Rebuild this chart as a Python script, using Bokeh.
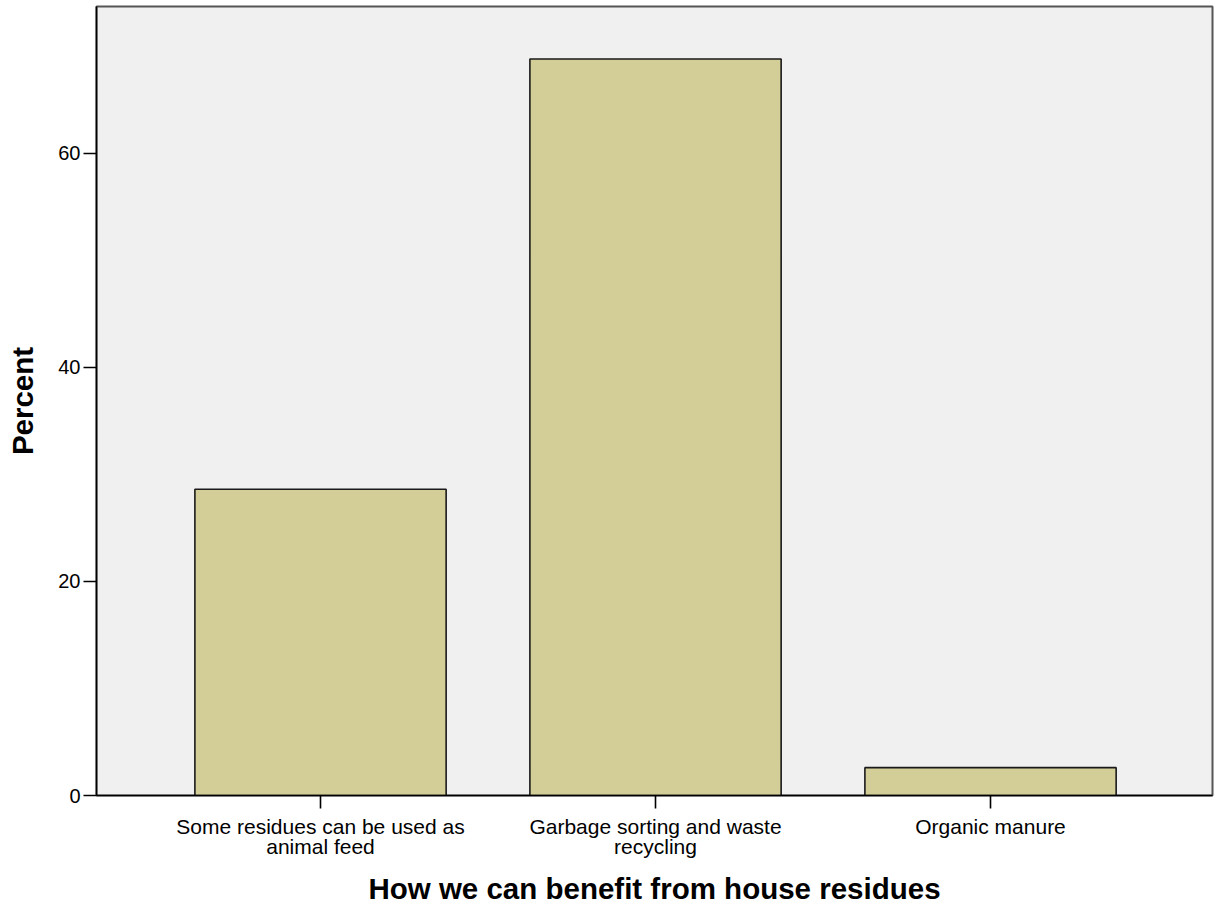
from bokeh.plotting import figure
from bokeh.models import Range1d, FixedTicker, ColumnDataSource
from bokeh.embed import file_html
from bokeh.resources import INLINE

categories = ["Some residues can be used as\nanimal feed",
              "Garbage sorting and waste\nrecycling",
              "Organic manure"]
percent = [28.6, 68.8, 2.6]
positions = [1, 2, 3]
y_ticks = [0, 20, 40, 60]

src = ColumnDataSource(dict(x=positions, top=percent))

p = figure(width=1217, height=911, output_backend="svg", toolbar_location=None,
           x_range=Range1d(0.3313, 3.6626), y_range=Range1d(0, 73.7),
           min_border_left=96, min_border_right=5, min_border_top=6, min_border_bottom=116)

p.border_fill_color = "white"
p.background_fill_color = "#F0F0F0"
p.outline_line_color = "#555555"
p.outline_line_width = 2
p.xgrid.visible = False
p.ygrid.visible = False

p.vbar(x="x", top="top", bottom=0, width=0.75, source=src,
       fill_color="#D3CE97", line_color="#1a1a1a", line_width=1.6)

font = "Liberation Sans"

p.xaxis.ticker = FixedTicker(ticks=positions)
p.xaxis.major_label_overrides = {pos: lab for pos, lab in zip(positions, categories)}
p.yaxis.ticker = FixedTicker(ticks=y_ticks)

for ax in (p.xaxis, p.yaxis):
    ax.axis_line_color = "black"
    ax.axis_line_width = 1.6
    ax.major_tick_line_color = "black"
    ax.major_tick_line_width = 1.6
    ax.major_tick_out = 13
    ax.major_tick_in = 0
    ax.minor_tick_out = 0
    ax.minor_tick_in = 0
    ax.major_label_text_font = font
    ax.major_label_text_color = "black"
    ax.axis_label_text_font = font
    ax.axis_label_text_font_size = "29.5px"
    ax.axis_label_text_font_style = "bold"
    ax.axis_label_text_color = "black"

p.xaxis.major_label_text_font_size = "21px"
p.yaxis.major_label_text_font_size = "20px"
p.xaxis.major_label_text_line_height = 0.9
p.xaxis.axis_label = "How we can benefit from house residues"
p.yaxis.axis_label = "Percent"
p.xaxis.major_label_standoff = 6
p.yaxis.major_label_standoff = 3
p.xaxis.axis_label_standoff = 11
p.yaxis.axis_label_standoff = 16

open("out.html", "w").write(file_html(p, INLINE))
